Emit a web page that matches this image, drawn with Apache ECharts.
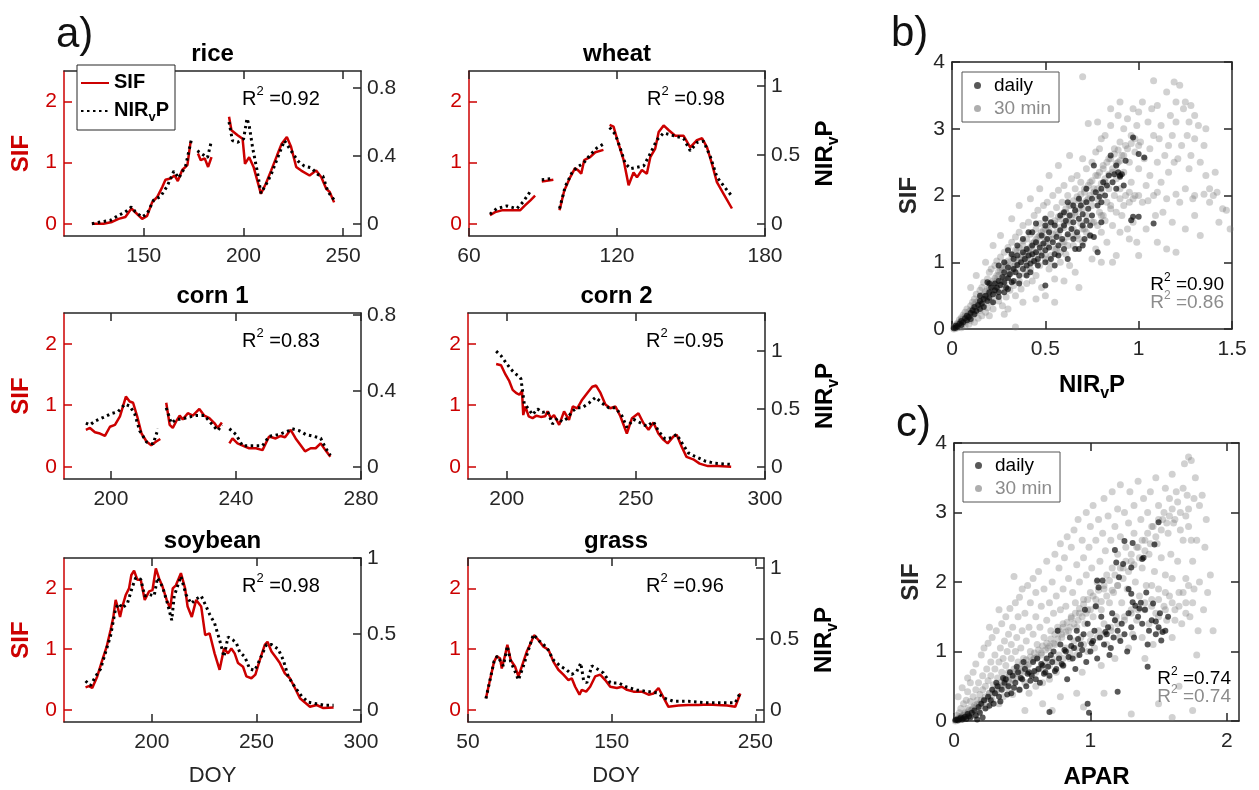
<!DOCTYPE html>
<html><head><meta charset="utf-8">
<script src="https://cdn.jsdelivr.net/npm/echarts@6/dist/echarts.min.js"></script>
<style>html,body{margin:0;padding:0;background:#fff}#c{width:1259px;height:790px}</style>
</head><body><div id="c"></div>
<script>
// ---------------- DATA ----------------
const cropNames = ['rice','wheat','corn 1','corn 2','soybean','grass'];
const r2Values = ['0.92','0.98','0.83','0.95','0.98','0.96'];
const doyRanges = [[110,259],[60,180],[185,280],[185,300],[158,300],[50,256]];
const doyTicks = [[150,200,250],[60,120,180],[200,240,280],[200,250,300],[200,250,300],[50,150,250]];
const sifRange = [-0.2,2.5];
const sifTicks = [0,1,2];
const nirMax = [0.9,1.11,0.81,1.33,1.0,1.07];
const nirTicks = [[0,0.4,0.8],[0,0.5,1],[0,0.4,0.8],[0,0.5,1],[0,0.5,1],[0,0.5,1]];

const riceSIF = [
 [[124,0.0],[129.8,0.0],[134.1,0.03],[137.4,0.08],[140.8,0.11],[143.8,0.25],[146.7,0.16],[149.2,0.08],[151.7,0.13],[154.2,0.35],[156.8,0.44],[159.3,0.60],[160.9,0.72],[163.4,0.74],[165.5,0.79],[167.1,0.70],[169.3,0.88],[171.9,0.96],[173.5,1.34]],
 [[177.2,1.15],[178.6,1.04],[180.6,1.07],[182.3,0.93],[184,1.09]],
 [[192.8,1.75],[194.0,1.53],[197.1,1.45],[199.6,1.39],[200.8,0.98],[202.9,1.09],[205.1,0.93],[208.8,0.49],[211.3,0.66],[213.9,0.87],[216.9,1.12],[219.2,1.31],[221.8,1.42],[223.9,1.26],[226.5,0.93],[229,0.87],[233.2,0.79],[236.5,0.87],[239.1,0.76],[241.6,0.57],[243.3,0.52],[245.5,0.35]]
];
const riceNIR = [
 [[124,0.0],[128.2,0.01],[133.2,0.02],[137.4,0.05],[140.8,0.07],[143.8,0.10],[145.8,0.07],[149.2,0.04],[151.7,0.06],[155,0.14],[158.4,0.16],[161.7,0.22],[165.1,0.31],[167.6,0.27],[171,0.34],[173.8,0.49]],
 [[176.9,0.43],[179.4,0.41],[182,0.39],[184,0.49]],
 [[192.8,0.60],[194.5,0.49],[197.1,0.48],[200.1,0.50],[201.8,0.62],[202.9,0.58],[204.6,0.45],[207.1,0.30],[208.8,0.18],[211.3,0.23],[213.9,0.29],[217.2,0.39],[220.6,0.49],[223.9,0.43],[227.3,0.37],[230.6,0.34],[234,0.33],[237.4,0.29],[239.9,0.28],[242.4,0.19],[245.5,0.14]]
];
const wheatSIF = [
 [[68.5,0.14],[70.6,0.19],[73.3,0.22],[76.6,0.22],[80.7,0.22],[82.7,0.30],[84.8,0.38],[86.8,0.46]],
 [[89.5,0.69],[94.2,0.72]],
 [[96.7,0.22],[98.6,0.54],[101.0,0.76],[103.0,0.91],[104.4,0.87],[105.5,0.82],[106.7,1.04],[109.1,1.09],[111.2,1.17],[114.5,1.21]],
 [[117.0,1.62],[118.6,1.59],[120.6,1.31],[122.7,1.04],[124.7,0.63],[126.7,0.84],[128.1,0.76],[130.1,0.88],[132.1,0.82],[133.5,1.09],[135.5,1.23],[136.9,1.50],[138.9,1.61],[141.0,1.53],[143.6,1.44],[147.0,1.44],[149.7,1.25],[152.4,1.37],[154.5,1.40],[156.5,1.25],[158.5,0.98],[160.5,0.68],[163.2,0.49],[166.6,0.25]]
];
const wheatNIR = [
 [[68.5,0.07],[71.2,0.11],[75.3,0.13],[79.4,0.11],[82.0,0.16],[85.4,0.25]],
 [[89.5,0.32],[94.2,0.33]],
 [[96.7,0.11],[99.0,0.27],[101.7,0.37],[103.7,0.41],[106.4,0.44],[109.1,0.50],[111.8,0.55],[114.5,0.58]],
 [[117.0,0.70],[119.3,0.65],[121.3,0.55],[123.3,0.44],[125.4,0.40],[128.1,0.41],[130.8,0.42],[133.5,0.51],[136.2,0.61],[138.9,0.66],[143.0,0.64],[147.0,0.62],[149.7,0.53],[152.4,0.59],[155.1,0.60],[157.8,0.49],[160.5,0.34],[163.9,0.26],[166.6,0.20]]
];
const corn1SIF = [
 [[192.0,0.60],[193.3,0.63],[194.9,0.56],[196.5,0.54],[198.1,0.50],[199.7,0.65],[201.3,0.68],[202.9,0.82],[204.8,1.14],[206.0,1.06],[207.1,1.04],[208.4,0.82],[209.8,0.54],[211.4,0.41],[212.9,0.35],[214.5,0.41],[215.8,0.45]],
 [[217.7,1.04],[218.8,0.68],[219.8,0.63],[220.9,0.74],[222.0,0.83],[223.0,0.77],[224.6,0.87],[226.2,0.83],[228.3,0.94],[229.9,0.83],[231.5,0.79],[233.1,0.71],[234.2,0.63],[235.5,0.72]],
 [[237.9,0.38],[238.9,0.46],[240.5,0.38],[242.7,0.33],[244.2,0.30],[246.4,0.30],[248.5,0.27],[250.6,0.49],[252.7,0.46],[254.3,0.50],[255.7,0.48],[257.5,0.60],[259.1,0.46],[260.7,0.35],[262.1,0.25],[263.9,0.30],[265.5,0.30],[267.1,0.38],[268.6,0.27],[270.2,0.16]]
];
const corn1NIR = [
 [[192.0,0.23],[193.3,0.22],[194.9,0.24],[197.6,0.26],[200.2,0.28],[202.3,0.29],[204.5,0.33],[206.0,0.32],[207.6,0.28],[209.2,0.19],[211.4,0.13],[213.5,0.12],[215.1,0.20]],
 [[217.7,0.31],[219.3,0.23],[220.9,0.25],[222.5,0.25],[224.6,0.26],[227.3,0.27],[229.9,0.27],[232.0,0.23],[234.2,0.19],[235.5,0.22]],
 [[237.9,0.20],[240.0,0.17],[242.1,0.11],[245.3,0.11],[248.5,0.11],[250.6,0.16],[253.8,0.17],[257.0,0.19],[258.0,0.20],[260.2,0.19],[262.3,0.17],[264.9,0.16],[267.1,0.15],[268.6,0.10],[270.2,0.06]]
];
const corn2SIF = [
 [[195.9,1.67],[197.8,1.65],[199.5,1.50],[201.0,1.39],[202.3,1.25],[203.6,1.20],[204.9,1.17],[205.9,1.23],[206.4,0.84],[207.2,0.98],[208.5,0.82],[210.0,0.79],[211.5,0.83],[213.2,0.81],[214.9,0.82],[215.8,0.90],[217.1,0.79],[218.3,0.84],[220.3,0.68],[222.2,0.90],[224.1,0.76],[225.6,0.98],[227.3,0.95],[229.2,1.09],[231.2,1.20],[233.1,1.30],[234.6,1.32],[236.3,1.20],[238.2,1.01],[240.1,0.95],[242.1,0.98],[244.0,0.82],[246.5,0.54],[248.5,0.79],[251.0,0.87],[252.9,0.71],[254.9,0.60],[256.8,0.72],[258.7,0.54],[260.6,0.44],[262.3,0.38],[264.5,0.49],[265.8,0.52],[267.7,0.33],[269.6,0.16],[272.2,0.12],[274.7,0.05],[277.9,0.01],[281.8,0.01],[286.9,0.00]]
];
const corn2NIR = [
 [[195.9,1.00],[197.8,0.96],[199.7,0.90],[201.7,0.84],[203.6,0.80],[204.9,0.78],[205.5,0.76],[206.8,0.54],[208.1,0.51],[210.0,0.45],[211.9,0.50],[213.8,0.47],[215.8,0.48],[217.7,0.37],[219.6,0.42],[221.5,0.39],[223.5,0.42],[225.4,0.48],[227.3,0.51],[229.2,0.51],[231.8,0.55],[234.4,0.60],[236.9,0.55],[239.5,0.51],[242.1,0.51],[244.6,0.44],[246.5,0.34],[249.1,0.41],[251.7,0.38],[254.2,0.35],[256.8,0.39],[258.7,0.31],[261.3,0.24],[263.8,0.25],[265.8,0.28],[267.7,0.21],[270.3,0.12],[272.8,0.09],[276.7,0.05],[280.5,0.03],[286.9,0.02]]
];
const soySIF = [
 [[168.3,0.37],[169.9,0.39],[171.5,0.36],[173.9,0.55],[176.3,0.82],[178.4,1.04],[180.3,1.32],[181.6,1.53],[182.7,1.81],[183.8,1.67],[184.8,1.53],[185.9,1.70],[187.5,1.89],[189.1,2.00],[190.2,2.22],[191.5,2.29],[193.1,2.14],[194.7,2.14],[196.6,1.81],[198.7,1.95],[200.3,1.97],[201.9,2.33],[203.5,2.16],[205.1,2.03],[207.1,1.81],[208.8,1.67],[210.0,2.00],[211.5,2.05],[213.9,2.25],[215.9,2.00],[217.1,1.70],[219.1,1.53],[221.2,1.81],[223.6,1.70],[225.5,1.23],[227.6,1.26],[230.0,0.93],[232.4,0.66],[234.5,1.01],[236.4,0.93],[238.0,1.01],[239.6,0.93],[241.2,0.77],[243.6,0.71],[245.2,0.55],[247.6,0.52],[249.5,0.58],[251.6,0.82],[254.0,1.07],[255.3,1.12],[257.2,0.96],[259.6,0.85],[261.2,0.77],[263.6,0.60],[266.0,0.52],[268.4,0.36],[270.8,0.19],[273.2,0.12],[275.6,0.05],[278.8,0.08],[282.0,0.03],[286.9,0.04]]
];
const soyNIR = [
 [[168.3,0.19],[170.7,0.16],[173.1,0.22],[175.5,0.27],[177.9,0.38],[180.3,0.49],[182.7,0.67],[184.3,0.70],[185.9,0.67],[188.3,0.70],[190.7,0.81],[192.3,0.87],[194.7,0.86],[196.6,0.75],[198.7,0.76],[201.1,0.75],[202.7,0.87],[205.1,0.81],[207.5,0.70],[209.5,0.59],[210.7,0.75],[213.9,0.88],[216.3,0.76],[218.8,0.70],[221.2,0.73],[223.6,0.75],[226.0,0.68],[227.6,0.63],[230.0,0.57],[232.4,0.46],[234.5,0.35],[236.4,0.48],[238.8,0.46],[240.4,0.44],[242.0,0.38],[244.4,0.35],[246.8,0.27],[249.2,0.26],[251.6,0.33],[254.8,0.43],[257.2,0.43],[260.4,0.40],[262.8,0.33],[265.2,0.22],[268.4,0.15],[271.6,0.09],[274.8,0.05],[278.8,0.04],[282.9,0.03],[286.9,0.03]]
];
const grassSIF = [
 [[62.5,0.19],[65.3,0.49],[68.1,0.79],[70.0,0.88],[72.3,0.85],[73.5,0.68],[75.8,0.90],[77.4,1.07],[79.7,0.82],[82.8,0.71],[85.1,0.55],[87.4,0.71],[90.9,0.96],[93.7,1.10],[96.0,1.23],[99.0,1.15],[102.5,1.04],[106.0,0.99],[109.5,0.79],[112.9,0.66],[116.4,0.58],[119.9,0.49],[122.2,0.52],[124.6,0.38],[127.6,0.25],[129.2,0.33],[132.2,0.30],[135.0,0.38],[138.5,0.55],[142.0,0.58],[145.5,0.49],[149.0,0.38],[153.6,0.36],[157.1,0.38],[160.6,0.33],[165.2,0.30],[171.0,0.30],[175.7,0.25],[179.2,0.27],[182.6,0.36],[185.0,0.25],[189.5,0.05],[196.5,0.07],[203.4,0.08],[210.4,0.08],[217.4,0.09],[223.3,0.08],[230.3,0.07],[236.0,0.05],[237.2,0.08],[239.5,0.27]]
];
const grassNIR = [
 [[62.5,0.08],[65.3,0.21],[68.1,0.34],[70.4,0.38],[72.8,0.34],[74.6,0.31],[77.4,0.45],[79.7,0.34],[82.8,0.27],[85.1,0.21],[88.6,0.31],[92.0,0.42],[95.5,0.53],[100.2,0.48],[104.8,0.44],[109.5,0.35],[114.1,0.31],[118.8,0.28],[122.2,0.25],[125.7,0.27],[128.5,0.33],[130.4,0.21],[132.7,0.19],[136.2,0.31],[139.7,0.29],[144.3,0.26],[149.0,0.19],[154.8,0.19],[160.6,0.16],[167.5,0.14],[174.5,0.13],[181.5,0.12],[187.3,0.08],[193.1,0.06],[203.4,0.06],[215.0,0.05],[226.6,0.05],[236.0,0.05],[239.5,0.12]]
];

// panel b: SIF vs NIRvP
const bDaily = [[0.01,0.01],[0.02,0.02],[0.02,0.05],[0.03,0.04],[0.04,0.08],[0.05,0.06],[0.05,0.12],[0.06,0.1],[0.07,0.16],[0.08,0.13],[0.08,0.2],[0.09,0.18],[0.1,0.24],[0.1,0.15],[0.11,0.28],[0.12,0.22],[0.12,0.33],[0.13,0.27],[0.14,0.36],[0.15,0.3],[0.15,0.42],[0.15,0.5],[0.16,0.38],[0.17,0.45],[0.17,0.33],[0.18,0.5],[0.19,0.42],[0.19,0.7],[0.2,0.55],[0.2,0.47],[0.2,0.68],[0.21,0.62],[0.22,0.52],[0.22,0.4],[0.23,0.58],[0.23,0.68],[0.24,0.62],[0.25,0.72],[0.25,0.55],[0.25,0.95],[0.25,0.48],[0.26,0.66],[0.27,0.78],[0.28,0.7],[0.28,0.85],[0.28,0.55],[0.28,1.0],[0.29,0.62],[0.3,0.76],[0.3,0.92],[0.3,1.18],[0.3,0.6],[0.31,0.82],[0.32,0.7],[0.32,1.12],[0.33,0.9],[0.33,1.05],[0.33,0.72],[0.34,0.85],[0.35,0.96],[0.35,1.1],[0.35,1.25],[0.36,0.8],[0.36,0.68],[0.37,1.0],[0.38,1.15],[0.38,0.9],[0.38,1.35],[0.39,1.05],[0.4,0.95],[0.4,1.2],[0.4,0.8],[0.41,1.1],[0.41,1.45],[0.42,0.98],[0.42,0.85],[0.43,1.25],[0.43,1.12],[0.43,1.45],[0.44,1.02],[0.45,1.3],[0.45,1.15],[0.45,1.58],[0.46,1.05],[0.46,0.95],[0.47,1.22],[0.48,1.4],[0.48,1.1],[0.49,1.28],[0.5,1.18],[0.5,0.65],[0.5,1.55],[0.5,1.0],[0.5,1.65],[0.51,1.35],[0.52,1.45],[0.52,1.22],[0.53,1.6],[0.53,1.05],[0.54,1.3],[0.55,1.55],[0.55,1.12],[0.55,0.95],[0.56,1.38],[0.57,1.25],[0.57,1.1],[0.58,1.48],[0.58,1.7],[0.59,1.35],[0.6,1.55],[0.6,1.2],[0.6,1.75],[0.61,1.62],[0.62,1.42],[0.62,1.05],[0.62,1.9],[0.63,1.7],[0.64,1.5],[0.65,1.35],[0.65,1.6],[0.65,1.85],[0.66,1.78],[0.66,1.2],[0.67,1.45],[0.68,1.65],[0.68,1.2],[0.68,1.95],[0.69,1.85],[0.7,1.55],[0.7,1.72],[0.7,1.25],[0.71,1.35],[0.72,1.62],[0.72,1.9],[0.72,2.1],[0.73,1.8],[0.74,1.55],[0.74,1.4],[0.75,1.95],[0.75,1.7],[0.76,1.38],[0.76,2.45],[0.77,2.05],[0.78,1.85],[0.78,1.15],[0.79,1.98],[0.8,2.1],[0.8,1.9],[0.8,1.6],[0.81,2.2],[0.82,2.0],[0.83,2.15],[0.84,2.3],[0.85,2.6],[0.86,2.2],[0.87,2.32],[0.88,2.45],[0.88,2.1],[0.89,2.35],[0.9,2.3],[0.9,2.28],[0.91,2.32],[0.92,2.15],[0.93,2.52],[0.96,1.63],[0.97,2.87],[0.97,1.68],[1.0,2.62],[1.0,1.68],[1.03,2.57],[1.08,1.58]];
const bHalfHour = [[0.01,0.0],[0.01,0.03],[0.02,0.06],[0.02,0.01],[0.03,0.09],[0.03,0.02],[0.04,0.05],[0.04,0.14],[0.05,0.02],[0.05,0.17],[0.06,0.09],[0.06,0.21],[0.07,0.05],[0.07,0.25],[0.08,0.12],[0.08,0.3],[0.09,0.18],[0.09,0.07],[0.1,0.35],[0.1,0.13],
[0.11,0.4],[0.11,0.2],[0.12,0.1],[0.12,0.45],[0.13,0.25],[0.13,0.52],[0.14,0.16],[0.14,0.38],[0.15,0.58],[0.15,0.28],[0.16,0.2],[0.16,0.62],[0.17,0.35],[0.17,0.7],[0.18,0.25],[0.18,0.48],[0.19,0.75],[0.19,0.32],[0.2,0.58],[0.2,0.85],[0.1,0.62],[0.13,0.8],[0.18,1.0],[0.2,0.2],
[0.21,0.4],[0.21,0.9],[0.22,0.65],[0.22,0.3],[0.23,0.95],[0.23,0.5],[0.24,0.72],[0.24,1.02],[0.25,0.42],[0.25,0.8],[0.26,1.08],[0.26,0.58],[0.27,0.88],[0.27,0.35],[0.28,1.15],[0.28,0.66],[0.29,0.95],[0.29,0.48],[0.3,1.22],[0.3,0.78],[0.22,1.25],[0.26,1.4],[0.28,0.22],[0.3,0.3],
[0.31,0.58],[0.31,1.0],[0.32,1.3],[0.32,0.85],[0.33,0.65],[0.33,1.08],[0.34,1.38],[0.34,0.5],[0.35,0.9],[0.35,1.18],[0.36,0.72],[0.36,1.45],[0.37,0.98],[0.37,0.6],[0.38,1.25],[0.38,1.55],[0.39,0.82],[0.39,1.05],[0.4,1.35],[0.4,0.68],[0.32,1.65],[0.36,1.85],[0.34,0.03],[0.38,0.4],
[0.41,1.12],[0.41,1.6],[0.42,0.9],[0.42,1.42],[0.43,0.72],[0.43,1.2],[0.44,1.7],[0.44,1.02],[0.45,1.5],[0.45,0.8],[0.46,1.28],[0.46,1.78],[0.47,0.95],[0.47,1.58],[0.48,1.15],[0.48,0.62],[0.49,1.38],[0.49,1.85],[0.5,1.05],[0.5,1.65],[0.42,1.95],[0.47,2.1],[0.45,0.45],[0.5,0.5],
[0.51,1.25],[0.51,1.9],[0.52,0.9],[0.52,1.48],[0.53,1.72],[0.53,1.1],[0.54,1.35],[0.54,2.0],[0.55,0.75],[0.55,1.58],[0.56,1.2],[0.56,1.82],[0.57,1.42],[0.57,2.08],[0.58,1.0],[0.58,1.65],[0.59,1.3],[0.59,1.9],[0.6,1.52],[0.6,2.15],[0.52,2.3],[0.57,2.45],[0.55,0.4],[0.6,0.72],
[0.61,1.12],[0.61,1.75],[0.62,1.38],[0.62,2.0],[0.63,1.6],[0.63,0.95],[0.64,1.85],[0.64,2.25],[0.65,1.25],[0.65,1.5],[0.66,2.1],[0.66,1.7],[0.67,1.4],[0.67,2.3],[0.68,1.92],[0.68,0.62],[0.69,1.58],[0.69,2.2],[0.7,1.3],[0.7,1.8],[0.63,2.6],[0.7,2.55],[0.7,3.78],[0.66,0.85],
[0.71,2.05],[0.71,1.5],[0.72,2.4],[0.72,1.7],[0.73,1.95],[0.73,3.08],[0.74,1.4],[0.74,2.2],[0.75,1.85],[0.75,2.5],[0.76,1.6],[0.76,2.1],[0.77,2.65],[0.77,1.2],[0.78,1.95],[0.78,2.3],[0.79,1.75],[0.79,2.7],[0.8,2.05],[0.8,1.0],[0.8,2.85],[0.75,1.05],[0.78,3.1],[0.8,1.45],
[0.81,2.4],[0.81,1.7],[0.82,2.2],[0.82,2.9],[0.83,1.9],[0.83,1.3],[0.84,2.55],[0.84,2.1],[0.85,1.8],[0.85,3.05],[0.86,2.35],[0.86,1.55],[0.87,2.7],[0.87,2.0],[0.88,2.25],[0.88,1.1],[0.89,3.2],[0.89,2.5],[0.9,2.1],[0.9,1.45],[0.85,3.3],[0.9,3.4],[0.9,2.8],[0.86,1.0],
[0.91,2.6],[0.91,1.7],[0.92,2.35],[0.92,3.0],[0.93,2.0],[0.93,2.75],[0.94,1.5],[0.94,3.15],[0.95,2.5],[0.95,1.9],[0.96,2.9],[0.96,2.2],[0.97,3.3],[0.97,1.6],[0.98,2.65],[0.98,2.0],[0.99,3.05],[0.99,1.3],[1.0,2.4],[1.0,2.0],[1.0,3.25],[0.95,1.35],[1.0,1.1],
[1.01,2.8],[1.02,1.9],[1.02,3.4],[1.03,2.55],[1.04,2.15],[1.04,1.5],[1.05,3.1],[1.05,1.92],[1.06,2.7],[1.06,2.3],[1.07,3.3],[1.08,2.0],[1.08,3.72],[1.08,2.9],[1.09,1.7],[1.1,2.5],[1.1,3.35],[1.1,1.3],[1.1,2.05],
[1.11,2.85],[1.12,2.2],[1.12,3.05],[1.13,1.75],[1.14,2.6],[1.15,3.55],[1.15,1.95],[1.15,1.2],[1.16,2.35],[1.16,2.75],[1.17,3.2],[1.18,1.6],[1.18,2.9],[1.19,2.5],[1.2,3.4],[1.2,2.02],[1.2,3.1],[1.2,1.15],[1.19,3.7],
[1.21,2.55],[1.22,3.65],[1.22,1.9],[1.23,2.75],[1.24,3.3],[1.25,1.5],[1.25,2.1],[1.25,3.4],[1.26,2.9],[1.27,3.1],[1.27,2.4],[1.28,3.35],[1.28,2.6],[1.29,1.95],[1.3,3.2],[1.3,2.0],[1.3,1.7],[1.3,2.85],
[1.32,3.05],[1.33,2.5],[1.35,2.02],[1.35,2.75],[1.36,2.3],[1.38,2.1],[1.4,2.0],[1.42,2.05],[1.43,1.6],[1.45,1.8],[1.47,1.78],[1.38,1.9],[1.33,1.4],[1.41,2.35],[1.36,3.0],[1.49,1.5]];
const bHalfHourCore = [[0.02,0.04],[0.03,0.07],[0.04,0.09],[0.05,0.11],[0.05,0.14],[0.06,0.15],[0.07,0.14],[0.07,0.19],[0.08,0.2],[0.09,0.21],[0.09,0.26],[0.1,0.24],[0.1,0.28],[0.11,0.3],[0.11,0.25],[0.12,0.3],[0.12,0.36],[0.13,0.33],[0.13,0.4],[0.14,0.34],[0.14,0.42],[0.15,0.38],[0.15,0.46],[0.16,0.42],[0.16,0.5],[0.17,0.44],[0.17,0.52],[0.18,0.45],[0.18,0.56],[0.19,0.5],[0.19,0.6],[0.2,0.52],[0.2,0.64],[0.21,0.56],[0.21,0.68],[0.22,0.58],[0.22,0.72],[0.23,0.62],[0.23,0.76],[0.24,0.6],[0.24,0.8],[0.25,0.66],[0.25,0.86],[0.26,0.7],[0.26,0.88],[0.27,0.72],[0.27,0.92],[0.28,0.76],[0.28,0.98],[0.29,0.78],[0.3,0.82],[0.3,1.02],[0.31,0.86],[0.32,0.9],[0.32,1.1],[0.33,0.94],[0.34,0.96],[0.34,1.18],[0.35,1.0],[0.36,1.04],[0.36,1.22],[0.37,1.08],[0.38,1.1],[0.38,1.32],[0.39,1.14],[0.4,1.16],[0.4,1.02],[0.41,1.2],[0.42,1.22],[0.42,1.05],[0.43,1.28],[0.44,1.3],[0.44,1.12],[0.45,1.34],[0.46,1.38],[0.46,1.15],[0.47,1.4],[0.48,1.45],[0.48,1.25],[0.49,1.48],[0.5,1.5],[0.5,1.3],[0.51,1.55],[0.52,1.35],[0.53,1.58],[0.54,1.42],[0.55,1.62],[0.56,1.45],[0.57,1.68],[0.58,1.52],[0.59,1.72],[0.6,1.58],[0.61,1.8],[0.62,1.62],[0.63,1.85],[0.64,1.7],[0.65,1.92],[0.66,1.75],[0.67,1.98],[0.68,1.8],[0.69,2.02],[0.7,1.88],[0.71,2.1],[0.72,1.92],[0.73,2.15],[0.74,2.0],[0.75,2.22],[0.76,2.05],[0.77,2.3],[0.78,2.1],[0.79,2.35],[0.8,2.18],[0.81,2.45],[0.82,2.25],[0.83,2.5],[0.84,2.32],[0.85,2.55],[0.86,2.4],[0.87,2.62],[0.88,2.48],[0.89,2.68],[0.9,2.52],[0.92,2.6],[0.94,2.7],[0.96,2.78],[0.98,2.85],[1.0,2.75],
[0.4,0.9],[0.45,1.0],[0.5,1.1],[0.55,1.2],[0.6,1.3],[0.65,1.4],[0.7,1.5],[0.75,1.6],[0.8,1.7],[0.85,1.85],[0.9,1.95],[0.95,2.05],[0.52,1.0],[0.58,1.15],[0.62,1.25],[0.68,1.35],[0.72,1.45],[0.78,1.55],[0.82,1.62],[0.88,1.75],[0.92,1.85],[0.97,1.95]];

// panel c: SIF vs APAR
const cDaily = [[0.01,0.01],[0.02,0.02],[0.03,0.01],[0.04,0.03],[0.05,0.05],[0.06,0.02],[0.07,0.04],[0.08,0.06],[0.09,0.03],[0.1,0.1],[0.11,0.07],[0.12,0.05],[0.13,0.12],[0.15,0.15],[0.16,0.08],[0.17,0.02],[0.18,0.2],[0.19,0.12],[0.2,0.25],[0.21,0.05],[0.22,0.3],[0.23,0.18],[0.25,0.35],[0.26,0.22],[0.27,0.3],[0.28,0.45],[0.29,0.25],[0.3,0.4],[0.31,0.55],[0.32,0.5],[0.33,0.35],[0.34,0.28],[0.35,0.45],[0.36,0.62],[0.37,0.55],[0.38,0.6],[0.39,0.38],[0.4,0.5],[0.41,0.7],[0.42,0.4],[0.43,0.65],[0.44,0.48],[0.45,0.55],[0.46,0.78],[0.47,0.7],[0.48,0.45],[0.49,0.62],[0.5,0.6],[0.51,0.85],[0.52,0.75],[0.53,0.5],[0.54,0.68],[0.55,0.7],[0.56,0.58],[0.57,0.65],[0.58,0.85],[0.59,0.72],[0.6,0.6],[0.61,0.9],[0.62,0.75],[0.63,0.55],[0.64,0.82],[0.65,0.8],[0.66,0.68],[0.67,0.7],[0.68,0.9],[0.69,0.78],[0.7,0.65],[0.7,0.13],[0.71,0.95],[0.72,0.85],[0.73,1.0],[0.74,0.72],[0.75,0.75],[0.76,1.3],[0.77,0.9],[0.78,1.1],[0.79,0.82],[0.8,0.8],[0.81,1.02],[0.82,1.0],[0.83,0.6],[0.84,0.92],[0.85,1.2],[0.86,1.08],[0.87,0.9],[0.88,1.05],[0.89,0.75],[0.9,1.3],[0.91,1.18],[0.92,0.95],[0.93,1.1],[0.94,1.02],[0.95,1.25],[0.96,1.6],[0.97,0.85],[0.98,1.4],[0.98,0.25],[0.99,0.12],[1.0,1.0],[1.01,1.12],[1.02,1.15],[1.03,1.3],[1.04,1.65],[1.05,0.9],[1.05,2.02],[1.06,1.92],[1.07,1.2],[1.08,1.5],[1.09,2.02],[1.1,1.1],[1.11,1.28],[1.12,1.25],[1.13,1.35],[1.14,0.95],[1.15,1.05],[1.16,1.55],[1.17,1.2],[1.18,1.45],[1.18,2.46],[1.19,2.28],[1.2,1.3],[1.2,0.42],[1.21,2.07],[1.22,1.15],[1.23,1.4],[1.24,2.26],[1.25,1.25],[1.25,2.59],[1.27,1.0],[1.28,1.55],[1.28,1.9],[1.3,1.35],[1.3,2.21],[1.3,1.83],[1.31,2.56],[1.31,1.71],[1.32,1.2],[1.33,1.66],[1.35,1.5],[1.36,1.62],[1.37,1.7],[1.38,1.4],[1.38,2.33],[1.39,2.35],[1.4,1.6],[1.41,1.85],[1.42,1.1],[1.42,0.78],[1.43,1.3],[1.45,1.45],[1.46,1.69],[1.47,2.54],[1.48,1.43],[1.48,1.25],[1.5,2.86],[1.5,1.35],[1.51,1.55],[1.52,1.16],[1.53,1.28],[1.55,1.3],[1.57,1.5]];
const cHalfHour = [[0.01,0.0],[0.02,0.02],[0.02,0.08],[0.03,0.01],[0.04,0.12],[0.04,0.04],[0.05,0.02],[0.05,0.18],[0.06,0.08],[0.07,0.25],[0.07,0.03],[0.08,0.12],[0.09,0.3],[0.09,0.06],[0.1,0.18],[0.1,0.42],[0.11,0.1],[0.12,0.28],[0.12,0.55],[0.13,0.15],[0.14,0.35],[0.14,0.7],[0.15,0.08],[0.15,0.22],[0.16,0.45],[0.16,0.82],[0.17,0.3],[0.18,0.15],[0.18,0.55],[0.19,0.38],[0.2,0.95],[0.2,0.22],[0.06,0.48],[0.1,0.62],[0.03,0.35],
[0.21,0.45],[0.21,0.65],[0.22,0.3],[0.22,1.05],[0.23,0.5],[0.24,0.75],[0.24,0.2],[0.25,0.58],[0.25,1.12],[0.26,0.4],[0.27,0.85],[0.27,0.65],[0.28,0.3],[0.28,1.2],[0.29,0.52],[0.3,0.75],[0.3,0.95],[0.31,0.4],[0.31,1.3],[0.32,0.62],[0.33,0.85],[0.33,0.25],[0.34,1.05],[0.34,0.5],[0.35,0.7],[0.35,1.4],[0.36,0.9],[0.36,0.35],[0.37,0.6],[0.37,1.15],[0.38,0.8],[0.38,1.5],[0.39,0.48],[0.39,1.0],[0.4,0.7],[0.4,1.25],[0.26,1.35],[0.33,1.6],
[0.41,0.55],[0.41,1.62],[0.42,0.9],[0.42,1.1],[0.43,0.38],[0.43,1.35],[0.44,0.75],[0.44,2.08],[0.45,1.0],[0.45,1.7],[0.46,0.62],[0.46,1.2],[0.47,0.85],[0.47,1.5],[0.48,0.45],[0.48,1.78],[0.49,1.05],[0.5,0.7],[0.5,1.3],[0.5,1.9],[0.51,0.9],[0.52,1.55],[0.52,0.55],[0.53,1.15],[0.54,0.8],[0.54,1.95],[0.55,1.35],[0.55,0.4],[0.56,1.0],[0.56,1.7],[0.57,0.68],[0.58,1.25],[0.58,2.05],[0.59,0.9],[0.6,1.5],[0.6,0.5],[0.6,1.85],[0.52,0.15],
[0.61,1.1],[0.62,0.75],[0.62,2.15],[0.63,1.35],[0.64,0.95],[0.64,1.65],[0.65,0.55],[0.66,1.2],[0.66,1.9],[0.67,0.85],[0.68,1.45],[0.68,2.3],[0.69,1.05],[0.7,0.6],[0.7,1.7],[0.71,1.3],[0.72,2.0],[0.72,0.9],[0.73,1.55],[0.74,1.1],[0.74,2.4],[0.75,0.7],[0.75,1.8],[0.76,1.35],[0.77,2.2],[0.77,0.95],[0.78,1.6],[0.78,2.55],[0.79,1.2],[0.8,0.8],[0.8,1.9],[0.8,1.4],[0.65,0.25],[0.72,0.15],[0.78,0.35],
[0.81,2.35],[0.82,1.05],[0.82,1.65],[0.83,2.65],[0.84,1.3],[0.84,2.05],[0.85,0.9],[0.86,1.5],[0.86,2.5],[0.87,1.85],[0.88,1.15],[0.88,2.75],[0.89,1.7],[0.9,0.95],[0.9,2.25],[0.9,1.35],[0.91,2.9],[0.92,1.55],[0.92,2.0],[0.93,1.2],[0.94,2.6],[0.94,0.7],[0.95,1.75],[0.95,2.35],[0.96,1.4],[0.97,3.0],[0.97,2.1],[0.98,1.0],[0.98,1.6],[0.99,2.5],[1.0,1.85],[1.0,1.25],[1.0,2.8],[0.9,0.4],[0.95,0.2],
[1.01,2.2],[1.02,1.5],[1.02,3.1],[1.03,1.05],[1.04,2.6],[1.04,1.75],[1.05,2.0],[1.06,1.3],[1.06,2.9],[1.07,2.3],[1.08,1.6],[1.08,0.8],[1.09,2.7],[1.1,1.9],[1.1,3.2],[1.1,1.4],[1.11,2.45],[1.12,1.1],[1.12,2.1],[1.13,2.95],[1.14,1.7],[1.15,2.6],[1.15,1.3],[1.16,3.3],[1.16,2.2],[1.17,1.85],[1.18,0.9],[1.18,2.8],[1.19,1.5],[1.2,2.4],[1.2,3.05],[1.2,1.95],[1.1,0.4],
[1.21,1.2],[1.22,2.65],[1.22,3.4],[1.23,1.7],[1.24,2.2],[1.25,1.45],[1.25,3.0],[1.26,2.5],[1.27,1.9],[1.28,1.05],[1.28,2.85],[1.29,3.3],[1.3,1.6],[1.3,2.3],[1.3,0.1],[1.31,1.25],[1.32,2.7],[1.32,3.1],[1.33,2.0],[1.34,1.45],[1.35,2.5],[1.35,3.45],[1.36,1.8],[1.37,2.9],[1.38,1.2],[1.38,2.2],[1.39,3.2],[1.4,1.6],[1.4,2.6],[1.4,0.9],
[1.41,1.95],[1.42,3.0],[1.43,1.4],[1.43,2.4],[1.44,3.3],[1.45,1.75],[1.45,2.8],[1.46,1.1],[1.47,2.15],[1.48,3.5],[1.48,1.55],[1.49,2.55],[1.5,1.9],[1.5,3.1],[1.5,0.25],[1.51,1.3],[1.52,2.35],[1.53,2.9],[1.54,1.65],[1.55,3.35],[1.55,2.1],[1.56,1.45],[1.57,2.7],[1.58,3.2],[1.58,1.8],[1.59,2.4],[1.6,1.2],[1.6,3.55],[1.6,2.05],[1.6,0.05],
[1.61,2.85],[1.62,1.6],[1.63,3.3],[1.64,2.3],[1.65,1.85],[1.66,3.0],[1.67,1.4],[1.68,2.6],[1.69,3.7],[1.7,2.05],[1.7,1.7],[1.71,3.25],[1.72,2.8],[1.73,1.5],[1.74,3.75],[1.75,2.3],[1.75,0.15],[1.76,1.9],[1.77,3.5],[1.78,2.6],[1.79,1.3],[1.8,3.1],[1.8,2.0],[1.82,3.25],[1.83,1.6],[1.84,2.5],[1.86,1.85],[1.88,2.1],[1.9,1.3],[1.85,2.9],[1.72,3.8],[1.78,0.95],[1.65,0.5]];
const cHalfHourCore = [[0.03,0.04],[0.05,0.07],[0.07,0.08],[0.08,0.1],[0.1,0.12],[0.11,0.15],[0.13,0.16],[0.14,0.19],[0.16,0.2],[0.17,0.24],[0.19,0.25],[0.2,0.3],[0.22,0.28],[0.23,0.35],[0.25,0.32],[0.26,0.4],[0.28,0.38],[0.29,0.45],[0.31,0.44],[0.32,0.52],[0.34,0.48],[0.35,0.56],[0.37,0.52],[0.38,0.62],[0.4,0.58],[0.41,0.66],[0.43,0.6],[0.44,0.7],[0.46,0.68],[0.47,0.76],[0.49,0.72],[0.5,0.82],[0.52,0.78],[0.53,0.88],[0.55,0.82],[0.56,0.92],[0.58,0.88],[0.59,0.98],[0.61,0.92],[0.62,1.02],[0.64,0.98],[0.65,1.08],[0.67,1.02],[0.68,1.12],[0.7,1.08],[0.71,1.18],[0.73,1.12],[0.74,1.25],[0.76,1.18],[0.77,1.3],[0.79,1.25],[0.8,1.35],[0.82,1.28],[0.83,1.42],[0.85,1.35],[0.86,1.48],[0.88,1.4],[0.89,1.55],[0.91,1.45],[0.92,1.62],[0.94,1.5],[0.95,1.68],[0.97,1.55],[0.98,1.75],[1.0,1.6],[1.02,1.8],[1.04,1.65],[1.06,1.88],[1.08,1.72],[1.1,1.95],[1.12,1.8],[1.14,2.02],[1.16,1.88],[1.18,2.1],[1.2,1.95],[1.22,2.2],[1.24,2.05],[1.26,2.3],[1.28,2.15],[1.3,2.4],[1.32,2.25],[1.34,2.5],[1.36,2.35],[1.38,2.6],[1.4,2.45],[1.42,2.7],[1.44,2.55],[1.46,2.8],[1.48,2.65],[1.5,2.9],[1.52,2.75],[1.54,3.0],[1.56,2.85],[1.58,2.95],[1.6,3.05],[1.62,2.9],[1.64,3.15],[1.66,2.75],[1.68,3.35],[1.7,2.95],[1.72,3.05],[1.74,2.6],[1.76,3.2],
[0.6,0.7],[0.65,0.75],[0.7,0.8],[0.75,0.85],[0.8,0.9],[0.85,0.98],[0.9,1.05],[0.95,1.1],[1.0,1.15],[1.05,1.2],[1.1,1.25],[1.15,1.35],[1.2,1.4],[1.25,1.5],[1.3,1.55],[1.35,1.6],[1.4,1.7],[1.45,1.65],[1.5,1.75],[1.55,1.6],[1.6,1.7],[1.65,1.65],[1.7,1.55],[1.75,1.7],[1.62,1.45],[1.68,1.85],[1.72,1.95],[1.55,1.85],[1.5,1.5],[1.45,1.95]];
const bR2 = ['0.90','0.86'];
const cR2 = ['0.74','0.74'];
const scatterTicks = {bx:[0,0.5,1,1.5], cx:[0,1,2], y:[0,1,2,3,4]};

// ---------------- CHART ----------------
const FONT = 'Liberation Sans, Arial, sans-serif';
const RED = '#cc0000', INK = '#262626';
const sifData = [riceSIF, wheatSIF, corn1SIF, corn2SIF, soySIF, grassSIF];
const nirData = [riceNIR, wheatNIR, corn1NIR, corn2NIR, soyNIR, grassNIR];
const gridBoxes = [
  {left:64, top:71, width:297, height:165},
  {left:469, top:71, width:296, height:165},
  {left:64, top:313, width:297, height:166},
  {left:468, top:313, width:297, height:166},
  {left:64, top:558, width:297, height:164},
  {left:468, top:558, width:296, height:164}
];
function joinSegments(segs){ const out=[]; segs.forEach((s,i)=>{ if(i) out.push(['-','-']); s.forEach(p=>out.push(p)); }); return out; }
const subRich = (size) => ({
  n:{fontSize:size, fontWeight:'bold', fontFamily:FONT, color:'#000', verticalAlign:'top', lineHeight:size+2},
  s:{fontSize:Math.round(size*0.65), fontWeight:'bold', fontFamily:FONT, color:'#000', verticalAlign:'top', lineHeight:Math.round(size*0.65), padding:[Math.round(size*0.55),0,0,0]}
});
function line(color){ return {show:true, onZero:false, lineStyle:{color, width:1.5}}; }
function ticks(color, vals){ const t={show:true, inside:true, length:8, lineStyle:{color, width:1.5}}; if(vals) t.customValues=vals; return t; }

const grids=[], xAxes=[], yAxes=[], series=[], graphics=[];
for(let i=0;i<6;i++){
  const col=i%2, row=Math.floor(i/2);
  grids.push(Object.assign({containLabel:false}, gridBoxes[i]));
  const [x0,x1]=doyRanges[i];
  xAxes.push({gridIndex:i, type:'value', min:x0, max:x1, position:'bottom', axisLine:line(INK), axisTick:ticks(INK, doyTicks[i]),
    axisLabel:{customValues:doyTicks[i], fontSize:21, color:INK, fontFamily:FONT, margin:10}, splitLine:{show:false},
    name: row===2 ? 'DOY' : '', nameLocation:'middle', nameGap:43, nameTextStyle:{fontSize:22, color:INK, fontFamily:FONT}});
  xAxes.push({gridIndex:i, type:'value', min:x0, max:x1, position:'top', axisLine:line(INK), axisTick:ticks(INK, doyTicks[i]), axisLabel:{show:false}, splitLine:{show:false}});
  yAxes.push({gridIndex:i, type:'value', min:sifRange[0], max:sifRange[1], position:'left', axisLine:line(RED), axisTick:ticks(RED, sifTicks),
    axisLabel:{customValues:sifTicks, fontSize:21, color:RED, fontFamily:FONT, margin:7}, splitLine:{show:false},
    name: col===0 ? 'SIF' : '', nameLocation:'middle', nameRotate:90, nameGap:31, nameTextStyle:{fontSize:24, fontWeight:'bold', color:RED, fontFamily:FONT}});
  const k = nirMax[i]/sifRange[1];
  yAxes.push({gridIndex:i, type:'value', min:sifRange[0]*k, max:nirMax[i], position:'right', axisLine:line(INK), axisTick:ticks(INK, nirTicks[i]),
    axisLabel:{customValues:nirTicks[i], fontSize:21, color:INK, fontFamily:FONT, margin:6}, splitLine:{show:false},
    name: col===1 ? '{n|NIR}{s|v}{n|P}' : '', nameLocation:'middle', nameRotate:90, nameGap:48, nameTextStyle:{rich:subRich(24)}});
  series.push({type:'line', name:'SIF', xAxisIndex:2*i, yAxisIndex:2*i, data:joinSegments(sifData[i]), symbol:'none', showSymbol:false, connectNulls:false,
    lineStyle:{color:RED, width:2.5}, itemStyle:{color:RED}, animation:false, z:2});
  series.push({type:'line', name:'NIRvP', xAxisIndex:2*i, yAxisIndex:2*i+1, data:joinSegments(nirData[i]), symbol:'none', showSymbol:false, connectNulls:false,
    lineStyle:{color:'#000', width:3, type:[2.5,3.5]}, itemStyle:{color:'#000'}, animation:false, z:3});
  const g=gridBoxes[i];
  graphics.push({type:'text', x:g.left+g.width/2, y:g.top-17, style:{text:cropNames[i], font:'bold 24px '+FONT, fill:'#000', textAlign:'center', textVerticalAlign:'middle'}});
  graphics.push({type:'text', x:g.left+178, y:g.top+26, style:{text:'{r|R}{p|2}{r| ='+r2Values[i]+'}', fill:'#000', textAlign:'left', textVerticalAlign:'middle',
    rich:{r:{fontSize:20, fontFamily:FONT, verticalAlign:'bottom', lineHeight:24}, p:{fontSize:13, fontFamily:FONT, verticalAlign:'top', lineHeight:13}}}});
}

// scatter panels
const scat = [
  {box:{left:952, top:62, width:280, height:267}, xmax:1.5, xt:scatterTicks.bx, xname:'{n|NIR}{s|v}{n|P}', d:bDaily, h:bHalfHour.concat(bHalfHourCore), r2:bR2},
  {box:{left:954, top:443, width:285, height:280}, xmax:2.09, xt:scatterTicks.cx, xname:'{n|APAR}', d:cDaily, h:cHalfHour.concat(cHalfHourCore), r2:cR2}
];
scat.forEach((s,j)=>{
  const gi=6+j;
  grids.push(Object.assign({containLabel:false}, s.box));
  xAxes.push({gridIndex:gi, type:'value', min:0, max:s.xmax, position:'bottom', axisLine:line(INK), axisTick:ticks(INK, s.xt),
    axisLabel:{customValues:s.xt, fontSize:21, color:INK, fontFamily:FONT, margin:10}, splitLine:{show:false},
    name:s.xname, nameLocation:'middle', nameGap:44, nameTextStyle:{rich:subRich(24)}});
  xAxes.push({gridIndex:gi, type:'value', min:0, max:s.xmax, position:'top', axisLine:line(INK), axisTick:ticks(INK, s.xt), axisLabel:{show:false}, splitLine:{show:false}});
  yAxes.push({gridIndex:gi, type:'value', min:0, max:4, position:'left', axisLine:line(INK), axisTick:ticks(INK, scatterTicks.y),
    axisLabel:{customValues:scatterTicks.y, fontSize:21, color:INK, fontFamily:FONT, margin:7}, splitLine:{show:false},
    name:'SIF', nameLocation:'middle', nameRotate:90, nameGap:31, nameTextStyle:{fontSize:24, fontWeight:'bold', color:INK, fontFamily:FONT}});
  yAxes.push({gridIndex:gi, type:'value', min:0, max:4, position:'right', axisLine:line(INK), axisTick:ticks(INK, scatterTicks.y), axisLabel:{show:false}, splitLine:{show:false}});
  series.push({type:'scatter', name:'30 min', xAxisIndex:2*gi, yAxisIndex:2*gi, data:s.h, symbolSize:7, itemStyle:{color:'rgba(120,120,120,0.42)'}, animation:false, z:2});
  series.push({type:'scatter', name:'daily', xAxisIndex:2*gi, yAxisIndex:2*gi, data:s.d, symbolSize:6, itemStyle:{color:'rgba(10,10,10,0.85)'}, animation:false, z:3});
  const b=s.box;
  graphics.push({type:'text', x:b.left+b.width-8, y:b.top+b.height-46, style:{text:'{r|R}{p|2}{r| ='+s.r2[0]+'}', fill:'#000', textAlign:'right', textVerticalAlign:'middle',
    rich:{r:{fontSize:19, fontFamily:FONT, verticalAlign:'bottom', lineHeight:22}, p:{fontSize:12, fontFamily:FONT, verticalAlign:'top', lineHeight:12}}}});
  graphics.push({type:'text', x:b.left+b.width-8, y:b.top+b.height-28, style:{text:'{r|R}{p|2}{r| ='+s.r2[1]+'}', fill:'#8c8c8c', textAlign:'right', textVerticalAlign:'middle',
    rich:{r:{fontSize:19, fontFamily:FONT, verticalAlign:'bottom', lineHeight:22}, p:{fontSize:12, fontFamily:FONT, verticalAlign:'top', lineHeight:12}}}});
});

graphics.push({type:'text', x:56, y:14, style:{text:'a)', font:'42px '+FONT, fill:'#111'}});
graphics.push({type:'text', x:891, y:13, style:{text:'b)', font:'42px '+FONT, fill:'#111'}});
graphics.push({type:'text', x:896, y:403, style:{text:'c)', font:'42px '+FONT, fill:'#111'}});

const legendSIF = {data:['SIF','NIRvP'], left:77, top:65, orient:'vertical', backgroundColor:'#fff', borderColor:INK, borderWidth:1,
  padding:[7,6,6,3], itemGap:8, itemWidth:28, itemHeight:14, selectedMode:false, z:10,
  itemStyle:{opacity:0},
  formatter:(n)=> n==='NIRvP' ? '{n|NIR}{s|v}{n|P}' : '{n|SIF}',
  textStyle:{fontSize:20, fontWeight:'bold', color:'#000', fontFamily:FONT, rich:subRich(20)}};
function scatterLegend(left, top){
  return {data:[{name:'daily'},{name:'30 min', textStyle:{color:'#8c8c8c'}, itemStyle:{color:'#9a9a9a'}}], left, top, orient:'vertical',
    backgroundColor:'#fff', borderColor:'#555', borderWidth:1, padding:[4,8,4,12], itemGap:4, itemWidth:7, itemHeight:7, icon:'circle', selectedMode:false, z:10,
    textStyle:{fontSize:19, color:'#000', fontFamily:FONT, padding:[0,0,0,8]}};
}

const chart = echarts.init(document.getElementById('c'), null, {renderer:'canvas', width:1259, height:790});
chart.setOption({
  animation:false, backgroundColor:'#fff',
  grid:grids, xAxis:xAxes, yAxis:yAxes, series,
  legend:[legendSIF, scatterLegend(962,72), scatterLegend(963,452)],
  graphic:graphics
});
</script></body></html>
